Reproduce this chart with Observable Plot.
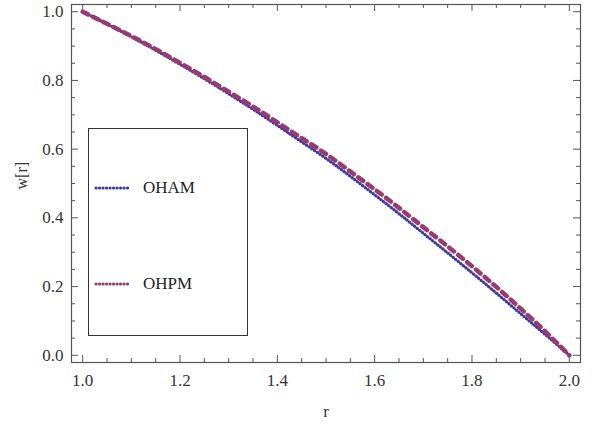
<!DOCTYPE html>
<html>
<head>
<meta charset="utf-8">
<script src="https://cdn.jsdelivr.net/npm/d3@7"></script>
<script src="https://cdn.jsdelivr.net/npm/@observablehq/plot@0.6"></script>
<style>
  html, body { margin: 0; padding: 0; background: #fff; }
  #wrap { position: relative; width: 610px; height: 432px; font-family: "Liberation Serif", "DejaVu Serif", serif; }
  #wrap svg, #wrap svg text { font-family: "Liberation Serif", "DejaVu Serif", serif !important; }
  #legend { position: absolute; left: 88px; top: 128px; width: 160px; height: 208px; border: 1px solid #333; background: #fff; box-sizing: border-box; }
  .item { position: absolute; left: 5px; display: flex; align-items: center; font-size: 17px; color: #222; }
  .swatch { width: 38px; margin-right: 11px; }
</style>
</head>
<body>
<div id="wrap"></div>
<script>
// Data
const r = [1.00, 1.05, 1.10, 1.15, 1.20, 1.25, 1.30, 1.35, 1.40, 1.45, 1.50,
           1.55, 1.60, 1.65, 1.70, 1.75, 1.80, 1.85, 1.90, 1.95, 2.00];
const ohamW = [1.000, 0.964, 0.927, 0.888, 0.847, 0.805, 0.761, 0.716, 0.669, 0.621, 0.573,
               0.521, 0.467, 0.412, 0.355, 0.298, 0.240, 0.181, 0.121, 0.061, 0.000];
const ohpmW = [1.000, 0.965, 0.929, 0.891, 0.851, 0.810, 0.767, 0.724, 0.678, 0.632, 0.586,
               0.535, 0.483, 0.429, 0.373, 0.317, 0.259, 0.199, 0.136, 0.070, 0.000];
const seriesNames = ["OHAM", "OHPM"];
const xMajor = [1.0, 1.2, 1.4, 1.6, 1.8, 2.0];
const xMinor = [1.05, 1.10, 1.15, 1.25, 1.30, 1.35, 1.45, 1.50, 1.55, 1.65, 1.70, 1.75, 1.85, 1.90, 1.95];
const yMajor = [0.0, 0.2, 0.4, 0.6, 0.8, 1.0];
const yMinor = [0.05, 0.10, 0.15, 0.25, 0.30, 0.35, 0.45, 0.50, 0.55, 0.65, 0.70, 0.75, 0.85, 0.90, 0.95];

const oham = r.map((v, i) => ({r: v, w: ohamW[i]}));
const ohpm = r.map((v, i) => ({r: v, w: ohpmW[i]}));

const W = 610, H = 432, mL = 71, mR = 30, mT = 4, mB = 70;
const pH = H - mT - mB, pW = W - mL - mR;
const blue = "#3c3ca0", mag = "#9a3a70", axc = "#555";
const font = '"Liberation Serif", serif';

const chart = Plot.plot({
  width: W, height: H,
  marginLeft: mL, marginRight: mR, marginTop: mT, marginBottom: mB,
  style: {fontFamily: font, background: "#fff"},
  x: {domain: [0.977, 2.023]},
  y: {domain: [-0.021, 1.021]},
  marks: [
    Plot.frame({stroke: axc, strokeWidth: 1.2}),
    Plot.tickX(xMajor, {x: d => d, insetTop: pH - 7, stroke: axc}),
    Plot.tickX(xMinor, {x: d => d, insetTop: pH - 4, stroke: axc}),
    Plot.tickX(xMajor, {x: d => d, insetBottom: pH - 7, stroke: axc}),
    Plot.tickX(xMinor, {x: d => d, insetBottom: pH - 4, stroke: axc}),
    Plot.tickY(yMajor, {y: d => d, insetRight: pW - 7, stroke: axc}),
    Plot.tickY(yMinor, {y: d => d, insetRight: pW - 4, stroke: axc}),
    Plot.tickY(yMajor, {y: d => d, insetLeft: pW - 7, stroke: axc}),
    Plot.tickY(yMinor, {y: d => d, insetLeft: pW - 4, stroke: axc}),
    Plot.axisX({ticks: xMajor, tickSize: 0, tickPadding: 11, tickFormat: d3.format(".1f"), fontSize: 17, fill: "#333",
                label: "r", labelAnchor: "center", labelArrow: "none", labelOffset: 54}),
    Plot.axisY({ticks: yMajor, tickSize: 0, tickPadding: 8, tickFormat: d3.format(".1f"), fontSize: 17, fill: "#333",
                label: null}),
    Plot.text(["w[r]"], {frameAnchor: "left", dx: -50, dy: 6, rotate: -90, fontSize: 16, fill: "#333", text: d => d}),
    Plot.line(oham, {x: "r", y: "w", stroke: blue, strokeWidth: 1.4, strokeOpacity: 0.6, curve: "natural"}),
    Plot.line(oham, {x: "r", y: "w", stroke: blue, strokeWidth: 3.2, strokeDasharray: "0.1 3.2", strokeLinecap: "round", curve: "natural"}),
    Plot.line(ohpm, {x: "r", y: "w", stroke: mag, strokeWidth: 4.5, strokeDasharray: "6 5.5", curve: "natural"})
  ]
});

const wrap = document.getElementById("wrap");
wrap.appendChild(chart);

const leg = document.createElement("div");
leg.id = "legend";
const colors = [blue, mag];
const tops = [59, 155];
seriesNames.forEach((name, i) => {
  const it = document.createElement("div");
  it.className = "item";
  it.style.top = (tops[i] - 10) + "px";
  it.innerHTML = `<svg class="swatch" width="38" height="20" viewBox="0 0 38 20"><line x1="2" y1="10" x2="36" y2="10" stroke="${colors[i]}" stroke-width="3.2" stroke-dasharray="0.1 3.4" stroke-linecap="round"/></svg><span>${name}</span>`;
  leg.appendChild(it);
});
wrap.appendChild(leg);
</script>
</body>
</html>
